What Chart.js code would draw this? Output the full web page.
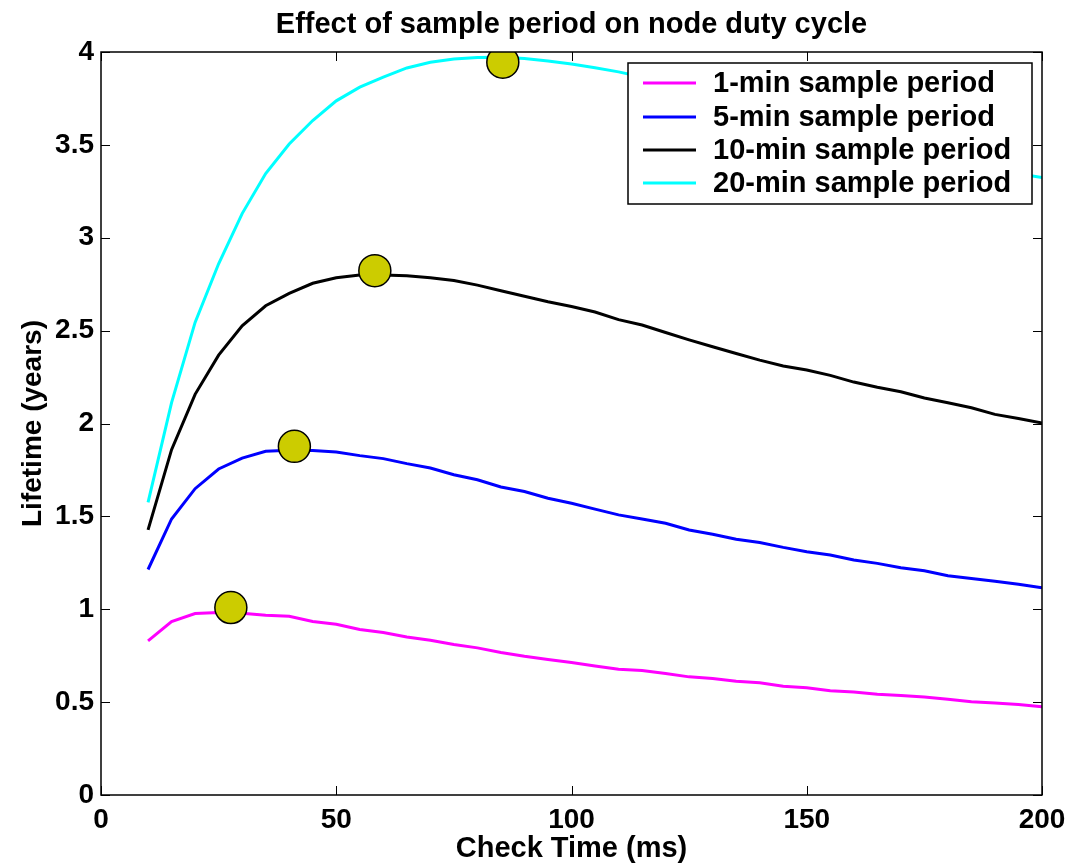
<!DOCTYPE html>
<html>
<head>
<meta charset="utf-8">
<script src="https://cdn.jsdelivr.net/npm/chart.js@4.4.1/dist/chart.umd.min.js"></script>
<style>
  html, body { margin: 0; padding: 0; background: #fff; }
  #wrap { width: 1084px; height: 866px; }
</style>
</head>
<body>
<div id="wrap"><canvas id="dutyChart" width="1084" height="866"></canvas></div>
<script>
// check time (ms) for every sample
const checkTime = [10, 15, 20, 25, 30, 35, 40, 45, 50, 55, 60, 65, 70, 75, 80, 85, 90, 95, 100,
    105, 110, 115, 120, 125, 130, 135, 140, 145, 150, 155, 160, 165, 170, 175, 180, 185, 190, 195, 200];

// lifetime in years
const life1min = [0.83, 0.934, 0.977, 0.982, 0.978, 0.968, 0.962, 0.934, 0.919, 0.891, 0.875, 0.851, 0.833,
    0.81, 0.792, 0.767, 0.747, 0.73, 0.713, 0.695, 0.677, 0.67, 0.654, 0.636, 0.627, 0.613, 0.604, 0.586,
    0.577, 0.561, 0.554, 0.543, 0.536, 0.527, 0.516, 0.502, 0.495, 0.487, 0.475];
const life5min = [1.214, 1.486, 1.649, 1.755, 1.814, 1.85, 1.856, 1.854, 1.847, 1.827, 1.811, 1.784, 1.76,
    1.724, 1.697, 1.658, 1.634, 1.598, 1.571, 1.539, 1.508, 1.486, 1.463, 1.427, 1.404, 1.377, 1.359, 1.333,
    1.31, 1.292, 1.265, 1.247, 1.223, 1.207, 1.18, 1.166, 1.151, 1.135, 1.115];
const life10min = [1.427, 1.859, 2.157, 2.368, 2.526, 2.634, 2.7, 2.755, 2.785, 2.8, 2.8, 2.795, 2.785,
    2.77, 2.745, 2.715, 2.685, 2.655, 2.63, 2.6, 2.559, 2.53, 2.49, 2.45, 2.413, 2.377, 2.341, 2.31,
    2.288, 2.259, 2.223, 2.195, 2.171, 2.137, 2.112, 2.085, 2.049, 2.027, 2.002];
const life20min = [1.575, 2.112, 2.544, 2.86, 3.13, 3.346, 3.505, 3.631, 3.737, 3.811, 3.865, 3.914, 3.945,
    3.962, 3.97, 3.972, 3.965, 3.952, 3.935, 3.915, 3.893, 3.865, 3.835, 3.8, 3.77, 3.735, 3.7, 3.665,
    3.63, 3.595, 3.56, 3.525, 3.49, 3.46, 3.43, 3.4, 3.37, 3.345, 3.324];

// optimum check time for each sample period (yellow circles)
const optTime = [27.6, 41.1, 58.2, 85.4];
const optLife = [1.009, 1.877, 2.823, 3.945];

const seriesLabels = ['1-min sample period', '5-min sample period', '10-min sample period', '20-min sample period'];
const seriesColors = ['#ff00ff', '#0000ff', '#000000', '#00ffff'];
const seriesData = [life1min, life5min, life10min, life20min];

const xTicks = [0, 50, 100, 150, 200];
const yTicks = [0, 0.5, 1, 1.5, 2, 2.5, 3, 3.5, 4];

const FONT = '"Liberation Sans", Arial, Helvetica, sans-serif';

function toPoints(xs, ys) {
    return xs.map((x, i) => ({ x: x, y: ys[i] }));
}

// matlab style frame: box, inward ticks, legend box in the corner
const matlabFrame = {
    id: 'matlabFrame',
    afterDatasetsDraw(chart) {
        const { ctx, chartArea: a, scales: { x, y } } = chart;
        ctx.save();
        ctx.strokeStyle = '#000';
        ctx.lineWidth = 1;
        ctx.beginPath();
        xTicks.forEach(v => {
            const px = Math.round(x.getPixelForValue(v)) + 0.5;
            ctx.moveTo(px, a.bottom); ctx.lineTo(px, a.bottom - 9);
            ctx.moveTo(px, a.top); ctx.lineTo(px, a.top + 9);
        });
        yTicks.forEach(v => {
            const py = Math.round(y.getPixelForValue(v)) + 0.5;
            ctx.moveTo(a.left, py); ctx.lineTo(a.left + 9, py);
            ctx.moveTo(a.right, py); ctx.lineTo(a.right - 9, py);
        });
        ctx.stroke();
        ctx.lineWidth = 1.5;
        ctx.strokeRect(a.left, a.top, a.right - a.left, a.bottom - a.top);

        // legend
        const lx = 628, ly = 63, lw = 404, lh = 141;
        ctx.fillStyle = '#fff';
        ctx.fillRect(lx, ly, lw, lh);
        ctx.lineWidth = 1.5;
        ctx.strokeRect(lx, ly, lw, lh);
        ctx.font = 'bold 29px ' + FONT;
        ctx.textBaseline = 'middle';
        ctx.textAlign = 'left';
        const rows = [83, 117, 150, 183];
        for (let i = 0; i < 4; i++) {
            const ds = chart.data.datasets[i + 1];
            ctx.strokeStyle = ds.borderColor;
            ctx.lineWidth = 3;
            ctx.beginPath();
            ctx.moveTo(643, rows[i]);
            ctx.lineTo(696, rows[i]);
            ctx.stroke();
            ctx.fillStyle = '#000';
            ctx.fillText(ds.label, 713, rows[i] + 1);
        }
        ctx.restore();
    }
};

const datasets = [{
    label: 'optimum',
    type: 'scatter',
    data: toPoints(optTime, optLife),
    pointRadius: 16,
    pointHoverRadius: 16,
    backgroundColor: '#cccc00',
    borderColor: '#000',
    borderWidth: 1.5,
}];
seriesData.forEach((vals, i) => {
    datasets.push({
        label: seriesLabels[i],
        data: toPoints(checkTime, vals),
        borderColor: seriesColors[i],
        backgroundColor: seriesColors[i],
        borderWidth: 3,
        pointRadius: 0,
        tension: 0,
        fill: false,
    });
});

new Chart(document.getElementById('dutyChart'), {
    type: 'line',
    data: { datasets: datasets },
    options: {
        responsive: false,
        animation: false,
        layout: { padding: { left: 0, right: 42, top: 0, bottom: 0 } },
        plugins: {
            legend: { display: false },
            tooltip: { enabled: false },
        },
        scales: {
            // top axis only carries the title, so it centres over the plot box
            top: {
                type: 'linear',
                position: 'top',
                min: 0,
                max: 200,
                afterFit(scale) { scale.height = 52; },
                grid: { display: false, drawTicks: false },
                border: { display: false },
                ticks: { display: false },
                title: {
                    display: true,
                    text: 'Effect of sample period on node duty cycle',
                    color: '#000',
                    font: { family: FONT, size: 29, weight: 'bold' },
                    padding: { top: 8, bottom: 0 },
                }
            },
            x: {
                type: 'linear',
                position: 'bottom',
                min: 0,
                max: 200,
                afterFit(scale) { scale.height = 71; },
                afterBuildTicks(scale) { scale.ticks = xTicks.map(v => ({ value: v })); },
                grid: { display: false, drawTicks: false },
                border: { display: false },
                ticks: { color: '#000', padding: 8, maxRotation: 0, font: { family: FONT, size: 28, weight: 'bold' } },
                title: {
                    display: true,
                    text: 'Check Time (ms)',
                    color: '#000',
                    font: { family: FONT, size: 29, weight: 'bold' },
                    padding: { top: 0, bottom: 0 },
                }
            },
            y: {
                min: 0,
                max: 4,
                afterFit(scale) { scale.width = 101; },
                afterBuildTicks(scale) { scale.ticks = yTicks.map(v => ({ value: v })); },
                grid: { display: false, drawTicks: false },
                border: { display: false },
                ticks: {
                    color: '#000',
                    padding: 7,
                    font: { family: FONT, size: 28, weight: 'bold' },
                    callback: v => String(v),
                },
                title: {
                    display: true,
                    text: 'Lifetime (years)',
                    color: '#000',
                    font: { family: FONT, size: 28, weight: 'bold' },
                    padding: { top: 16, bottom: 0 },
                }
            }
        }
    },
    plugins: [matlabFrame]
});
</script>
</body>
</html>
